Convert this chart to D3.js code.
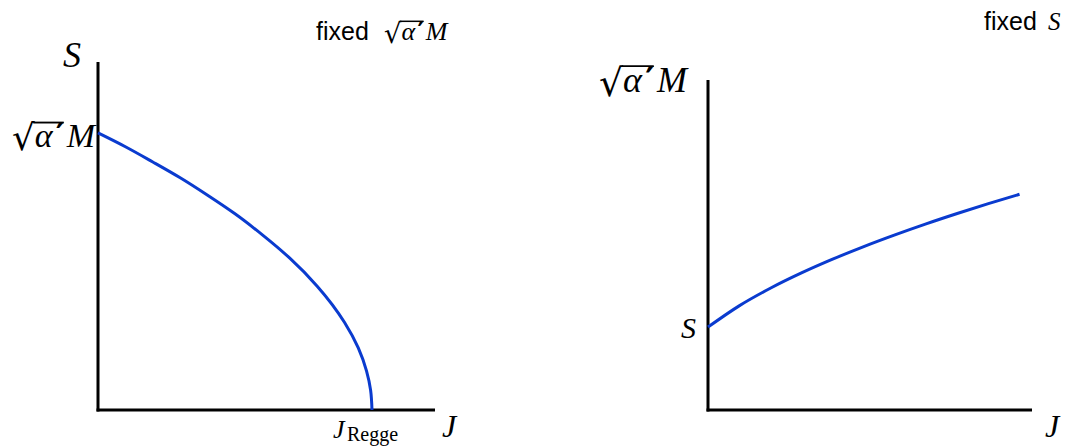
<!DOCTYPE html>
<html lang="en">
<head>
<meta charset="utf-8">
<title>fixed mass / fixed S</title>
<script src="https://cdn.jsdelivr.net/npm/d3@7"></script>
<style>
  body { margin: 0; background: white; }
  svg { display: block; background: white; }
  .math { font-family: "Liberation Serif", "DejaVu Serif", serif; font-style: italic; }
  .roman { font-family: "DejaVu Serif", serif; font-style: normal; }
  .rm { font-family: "Liberation Serif", serif; font-style: normal; }
  .note { font-family: "Liberation Sans", Arial, sans-serif; }
</style>
</head>
<body>
<script>
// left panel: S versus J at fixed sqrt(a')M  (units: J_Regge = 1, sqrt(a')M = 1)
var leftJ = [0, 0.1, 0.2, 0.3, 0.4, 0.5, 0.6, 0.7, 0.8, 0.9, 0.95, 0.98, 0.995, 1.0];
var leftS = [1, 0.95, 0.895, 0.838, 0.775, 0.708, 0.632, 0.548, 0.447, 0.316, 0.224, 0.141, 0.071, 0];

// right panel: sqrt(a')M versus J at fixed S  (units: S = 1)
var rightJ = [0, 0.1, 0.2, 0.3, 0.4, 0.5, 0.6, 0.7, 0.8, 0.9, 1.0];
var rightM = [1, 1.256, 1.468, 1.653, 1.819, 1.971, 2.112, 2.245, 2.37, 2.489, 2.602];

var w = 1067, h = 446;
var blue = "#0a3bcf";

var svg = d3.select("body").append("svg")
    .attr("width", w)
    .attr("height", h);

// scales
var xLeft = d3.scaleLinear().domain([0, 1.23]).range([98, 435]);
var yLeft = d3.scaleLinear().domain([0, 1.256]).range([410, 62]);
var xRight = d3.scaleLinear().domain([0, 1.04]).range([708, 1032]);
var yRight = d3.scaleLinear().domain([0, 3.98]).range([410, 80]);

function drawAxes(xs, ys) {
    var x0 = xs.range()[0], y0 = ys.range()[0];
    svg.append("line")
        .attr("x1", x0).attr("x2", x0)
        .attr("y1", ys.range()[1]).attr("y2", y0 + 1.5)
        .attr("stroke", "black").attr("stroke-width", 3);
    svg.append("line")
        .attr("x1", x0 - 1.5).attr("x2", xs.range()[1])
        .attr("y1", y0).attr("y2", y0)
        .attr("stroke", "black").attr("stroke-width", 3);
}

drawAxes(xLeft, yLeft);
drawAxes(xRight, yRight);

var lineLeft = d3.line()
    .x(function(d, i) { return xLeft(leftJ[i]); })
    .y(function(d) { return yLeft(d); })
    .curve(d3.curveMonotoneY);

svg.append("path")
    .attr("d", lineLeft(leftS))
    .attr("fill", "none")
    .attr("stroke", blue)
    .attr("stroke-width", 3);

var lineRight = d3.line()
    .x(function(d, i) { return xRight(rightJ[i]); })
    .y(function(d) { return yRight(d); })
    .curve(d3.curveMonotoneX);

svg.append("path")
    .attr("d", lineRight(rightM))
    .attr("fill", "none")
    .attr("stroke", blue)
    .attr("stroke-width", 3);

// sqrt(alpha') M label, built from measured pieces, with an overline over alpha'
function sqrtLabel(x, y, size, anchor) {
    var g = svg.append("g");
    var rs = size * 1.05;
    var ry = y + size * 0.1;
    var rad = g.append("text").attr("class", "roman")
        .attr("y", ry).attr("font-size", rs).text("\u221A");
    var alpha = g.append("text").attr("class", "math")
        .attr("y", y).attr("font-size", size).text("\u03B1");
    var prime = g.append("text").attr("class", "roman")
        .attr("y", y).attr("font-size", size).attr("font-weight", "bold").text("\u2032");
    var em = g.append("text").attr("class", "math")
        .attr("y", y).attr("font-size", size).text("M");

    var wr = rad.node().getComputedTextLength();
    var wa = alpha.node().getComputedTextLength();
    var wp = prime.node().getComputedTextLength();
    var wm = em.node().getComputedTextLength();
    var pgap = size * 0.09;
    var gap = size * 0.06;
    var total = wr + wa + pgap + wp + gap + wm;
    var x0 = anchor === "end" ? x - total : x;

    rad.attr("x", x0);
    alpha.attr("x", x0 + wr);
    prime.attr("x", x0 + wr + wa + pgap);
    em.attr("x", x0 + wr + wa + pgap + wp + gap);

    // top of the radical sign in DejaVu Serif sits about 0.78 em above its baseline
    var top = ry - rs * 0.78;
    g.append("line")
        .attr("x1", x0 + wr - 1.5).attr("x2", x0 + wr + wa + pgap + wp * 0.9)
        .attr("y1", top).attr("y2", top)
        .attr("stroke", "black").attr("stroke-width", Math.max(1.5, size * 0.055));
}

// left panel labels
svg.append("text").attr("class", "math")
    .attr("x", 63).attr("y", 67).attr("font-size", 36).text("S");
sqrtLabel(95, 147, 34, "end");
svg.append("text").attr("class", "math")
    .attr("x", 442).attr("y", 437).attr("font-size", 32).text("J");
svg.append("text").attr("class", "math")
    .attr("x", 333).attr("y", 438).attr("font-size", 26).text("J");
svg.append("text").attr("class", "rm")
    .attr("x", 347).attr("y", 441).attr("font-size", 20).text("Regge");

svg.append("text").attr("class", "note")
    .attr("x", 316).attr("y", 40).attr("font-size", 25).text("fixed");
sqrtLabel(384, 40, 26, "start");

// right panel labels
sqrtLabel(599, 92, 36, "start");
svg.append("text").attr("class", "math")
    .attr("x", 681).attr("y", 338).attr("font-size", 30).text("S");
svg.append("text").attr("class", "math")
    .attr("x", 1045).attr("y", 437).attr("font-size", 32).text("J");
svg.append("text").attr("class", "note")
    .attr("x", 984).attr("y", 30).attr("font-size", 25).text("fixed");
svg.append("text").attr("class", "math")
    .attr("x", 1048).attr("y", 30).attr("font-size", 25).text("S");
</script>
</body>
</html>
